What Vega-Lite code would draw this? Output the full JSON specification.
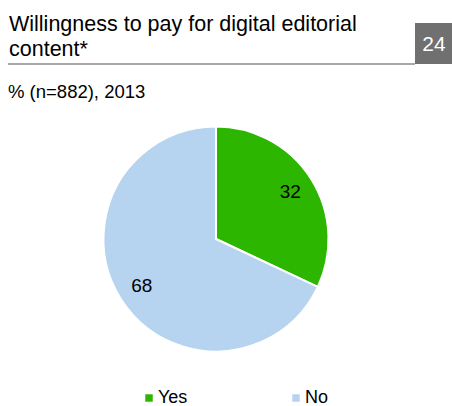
{
  "$schema": "https://vega.github.io/schema/vega-lite/v6.json",
  "width": 452,
  "height": 406,
  "autosize": "none",
  "padding": 0,
  "background": "white",
  "config": {
    "view": {"stroke": null},
    "font": "Liberation Sans",
    "legend": {
      "orient": "none",
      "legendX": 140,
      "legendY": 389,
      "direction": "horizontal",
      "symbolType": "square",
      "symbolSize": 56,
      "symbolStrokeWidth": 0,
      "labelFontSize": 18,
      "labelFont": "Liberation Sans",
      "labelColor": "#000000",
      "labelOffset": 0,
      "columnPadding": 99,
      "title": null
    }
  },
  "layer": [
    {
      "data": {"values": [{"t": "x"}]},
      "mark": {"type": "rule", "stroke": "#8c8c8c", "strokeWidth": 1.5},
      "encoding": {"x": {"value": 8}, "x2": {"value": 415}, "y": {"value": 64}, "y2": {"value": 64}}
    },
    {
      "data": {"values": [{"t": "x"}]},
      "mark": {"type": "rect", "fill": "#707070"},
      "encoding": {"x": {"value": 415}, "x2": {"value": 452}, "y": {"value": 23}, "y2": {"value": 64}}
    },
    {
      "data": {"values": [{"t": "24"}]},
      "mark": {"type": "text", "x": 434, "y": 51, "align": "center", "baseline": "alphabetic", "fontSize": 21, "color": "#ffffff", "font": "Liberation Sans"},
      "encoding": {"text": {"field": "t"}}
    },
    {
      "data": {"values": [{"t": "Willingness to pay for digital editorial\ncontent*"}]},
      "mark": {"type": "text", "x": 9, "y": 31, "align": "left", "baseline": "alphabetic", "lineBreak": "\n", "lineHeight": 25, "fontSize": 21.5, "color": "#000000", "font": "Liberation Sans"},
      "encoding": {"text": {"field": "t"}}
    },
    {
      "data": {"values": [{"t": "% (n=882), 2013"}]},
      "mark": {"type": "text", "x": 8, "y": 98, "align": "left", "baseline": "alphabetic", "fontSize": 18.5, "color": "#000000", "font": "Liberation Sans"},
      "encoding": {"text": {"field": "t"}}
    },
    {
      "data": {"values": [{"answer": "Yes", "value": 32}, {"answer": "No", "value": 68}]},
      "layer": [
        {
          "mark": {"type": "arc", "outerRadius": 112.5, "x": 216, "y": 239, "stroke": "#ffffff", "strokeWidth": 2},
          "encoding": {
            "theta": {"field": "value", "type": "quantitative", "stack": true},
            "order": {"field": "value", "type": "quantitative", "sort": "ascending"},
            "color": {
              "field": "answer",
              "type": "nominal",
              "scale": {"domain": ["Yes", "No"], "range": ["#2db600", "#b6d3f0"]}
            }
          }
        },
        {
          "mark": {"type": "text", "radius": 88, "x": 216, "y": 239, "fontSize": 19, "color": "#000000", "font": "Liberation Sans", "align": "center", "baseline": "middle"},
          "encoding": {
            "theta": {"field": "value", "type": "quantitative", "stack": true},
            "order": {"field": "value", "type": "quantitative", "sort": "ascending"},
            "text": {"field": "value", "type": "quantitative"}
          }
        }
      ]
    }
  ]
}
